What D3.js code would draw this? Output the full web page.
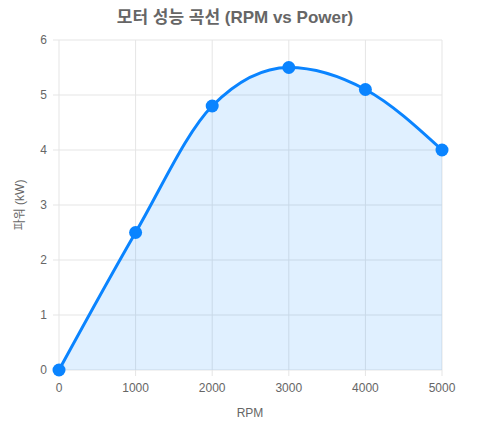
<!DOCTYPE html>
<html><head><meta charset="utf-8">
<script src="https://cdn.jsdelivr.net/npm/d3@7"></script>
<style>body{margin:0;background:#fff}text{font-family:"Helvetica Neue",Arial,"Noto Sans CJK KR",sans-serif}</style>
</head><body><svg id="c" width="477" height="435"></svg>
<script>
const rpm=[0,1000,2000,3000,4000,5000];
const power=[0,2.5,4.8,5.5,5.1,4.0];
const yTicks=[0,1,2,3,4,5,6];
const title="모터 성능 곡선 (RPM vs Power)";
const svg=d3.select("#c");
const x=d3.scaleLinear().domain([0,5000]).range([59,442]);
const y=d3.scaleLinear().domain([0,6]).range([370,40]);
const g=svg.append("g");
g.selectAll(".gx").data(rpm).enter().append("line").attr("x1",d=>x(d)).attr("x2",d=>x(d)).attr("y1",40).attr("y2",376).attr("stroke","#e5e5e5");
g.selectAll(".gy").data(yTicks).enter().append("line").attr("x1",53).attr("x2",442).attr("y1",d=>y(d)).attr("y2",d=>y(d)).attr("stroke","#e5e5e5");
g.selectAll(".tx").data(rpm).enter().append("text").attr("x",d=>x(d)).attr("y",392).attr("text-anchor","middle").attr("font-size",12).attr("fill","#666").text(d=>d);
g.selectAll(".ty").data(yTicks).enter().append("text").attr("x",47).attr("y",d=>y(d)+4).attr("text-anchor","end").attr("font-size",12).attr("fill","#666").text(d=>d);
const data=rpm.map((r,i)=>[r,power[i]]);
svg.append("path").datum(data).attr("d",d3.area().x(d=>x(d[0])).y0(y(0)).y1(d=>y(d[1])).curve(d3.curveMonotoneX)).attr("fill","rgba(0,132,255,0.12)");
svg.append("path").datum(data).attr("d",d3.line().x(d=>x(d[0])).y(d=>y(d[1])).curve(d3.curveMonotoneX)).attr("fill","none").attr("stroke","#0a84ff").attr("stroke-width",3);
svg.selectAll(".pt").data(data).enter().append("circle").attr("cx",d=>x(d[0])).attr("cy",d=>y(d[1])).attr("r",6.5).attr("fill","#0a84ff");
svg.append("text").attr("x",235).attr("y",23).attr("text-anchor","middle").attr("font-size",17).attr("font-weight","bold").attr("fill","#666").text(title);
svg.append("text").attr("x",250).attr("y",417).attr("text-anchor","middle").attr("font-size",12).attr("fill","#666").text("RPM");
svg.append("text").attr("transform","translate(24,205) rotate(-90)").attr("text-anchor","middle").attr("font-size",12).attr("fill","#666").text("파워 (kW)");
</script></body></html>
